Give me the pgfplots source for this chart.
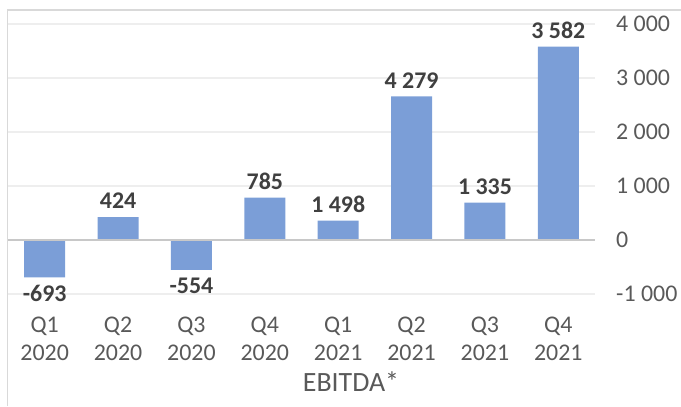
\documentclass[border=0pt]{standalone}
\usepackage{pgfplots}
\pgfplotsset{compat=1.18}
\usepackage{pgfplotstable}
\usepackage{fontspec}
\setmainfont{Carlito}
\definecolor{barblue}{HTML}{7B9ED7}
\definecolor{txtgray}{HTML}{595959}
\definecolor{lblgray}{HTML}{404040}
\definecolor{gridgray}{HTML}{EEEEEE}
\definecolor{zerogray}{HTML}{C8C8C8}
\definecolor{framegray}{HTML}{D9D9D9}

\pgfplotstableread[col sep=comma]{
x,y,label
1,424,424
3,785,785
4,360,1 498
5,2660,4 279
6,690,1 335
7,3582,3 582
}\ebitdapos
\pgfplotstableread[col sep=comma]{
x,y,label
0,-693,-693
2,-554,-554
}\ebitdaneg

\begin{document}
\begin{tikzpicture}[x=1bp,y=1bp]
\begin{axis}[
  at={(8bp,112bp)}, anchor=south west,
  scale only axis, width=587bp, height=270bp,
  xmin=-0.5, xmax=7.5, ymin=-1000, ymax=4000,
  clip=false,
  axis line style={draw=none},
  major tick length=0pt,
  xtick={0,...,7},
  xticklabels={{Q1\\2020},{Q2\\2020},{Q3\\2020},{Q4\\2020},{Q1\\2021},{Q2\\2021},{Q3\\2021},{Q4\\2021}},
  xticklabel style={align=center, font=\fontsize{24}{28}\selectfont, text=txtgray, inner sep=0pt, yshift=-23bp},
  ytick={-1000,0,1000,2000,3000,4000},
  yticklabels={-1 000,0,1 000,2 000,3 000,4 000},
  yticklabel pos=right,
  yticklabel style={anchor=west, font=\fontsize{24}{28}\selectfont, text=txtgray, inner sep=0pt, xshift=21bp},
  ymajorgrids, grid style={gridgray, line width=1.2bp},
]
\addplot[ybar, bar shift=0pt, bar width=41bp, fill=barblue, draw=none,
  nodes near coords, point meta=explicit symbolic,
  every node near coord/.append style={font=\fontsize{24}{28}\selectfont\bfseries, text=lblgray, inner xsep=0pt, inner ysep=8bp, anchor=south}]
  table[x=x, y=y, meta=label] {\ebitdapos};
\addplot[ybar, bar shift=0pt, bar width=41bp, fill=barblue, draw=none,
  nodes near coords, point meta=explicit symbolic,
  every node near coord/.append style={font=\fontsize{24}{28}\selectfont\bfseries, text=lblgray, inner xsep=0pt, inner ysep=8bp, anchor=north}]
  table[x=x, y=y, meta=label] {\ebitdaneg};
\draw[zerogray, line width=2.5bp] (axis cs:-0.5,0) -- (axis cs:7.5,0);
\end{axis}
\draw[framegray, line width=1.5bp] (7.5,0) -- (7.5,396) -- (681,396);
\node[font=\fontsize{28}{32}\selectfont, text=txtgray] at (351,24) {EBITDA*};
\pgfresetboundingbox
\path[use as bounding box] (0,0) rectangle (681,406);
\end{tikzpicture}
\end{document}
